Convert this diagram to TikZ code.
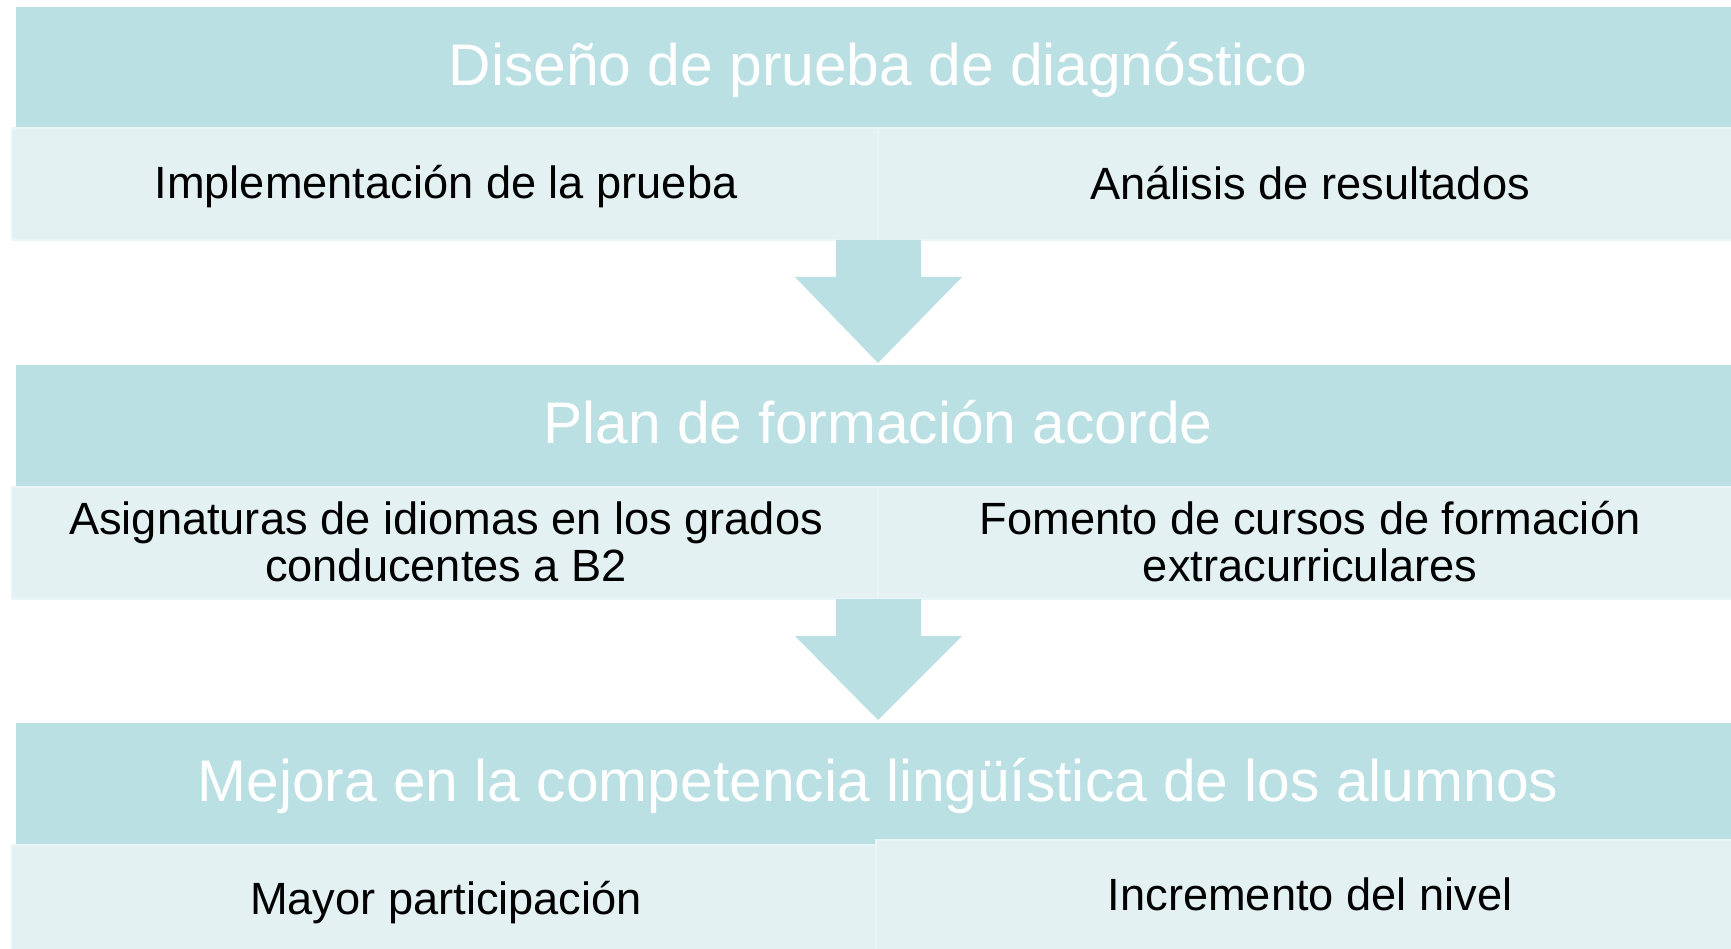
\documentclass[tikz,border=0pt]{standalone}
\usepackage{fontspec}
\setmainfont{Liberation Sans}
\definecolor{headc}{HTML}{BAE0E3}
\definecolor{subc}{HTML}{E3F1F2}
\definecolor{edgec}{HTML}{E9F5F6}
\tikzset{
  x=1pt, y=-1pt,
  headbox/.style={fill=headc, draw=none},
  subbox/.style={fill=subc, draw=edgec, line width=1.5pt},
  headtext/.style={text=white, font=\fontsize{58.7}{62}\selectfont, anchor=base, inner sep=0pt},
  subtext/.style={text=black, font=\fontsize{45.2}{47}\selectfont, align=center, anchor=base, inner sep=0pt},
  subtexttwo/.style={text=black, font=\fontsize{45.2}{47}\selectfont, align=center, anchor=center, inner sep=0pt},
  arrowshape/.style={fill=headc, draw=none}
}
\begin{document}
\begin{tikzpicture}
\useasboundingbox (0,0) rectangle (1731,949);
\clip (0,0) rectangle (1731,949);
\fill[white] (0,0) rectangle (1731,949);
% level 1
\path[headbox] (16,7) rectangle (1745,128);
\path[subbox] (12,128) rectangle (878,240);
\path[subbox] (878,128) rectangle (1745,240);
\node[headtext] (h1) at (878,86) {Diseño de prueba de diagnóstico};
\node[subtext] (s1a) at (446,199) {Implementación de la prueba};
\node[subtext] (s1b) at (1310,200) {Análisis de resultados};
\path[arrowshape] (836,240) -- (921,240) -- (921,277) -- (962,277) -- (878,363) -- (795,277) -- (836,277) -- cycle;
% level 2
\path[headbox] (16,365) rectangle (1745,487);
\path[subbox] (12,487) rectangle (878,599);
\path[subbox] (878,487) rectangle (1745,599);
\node[headtext] (h2) at (878,443) {Plan de formación acorde};
\node[subtexttwo] (s2a) at (446,542) {Asignaturas de idiomas en los grados\\conducentes a B2};
\node[subtexttwo] (s2b) at (1310,542) {Fomento de cursos de formación\\extracurriculares};
\path[arrowshape] (836,599) -- (921,599) -- (921,636) -- (962,636) -- (878,720) -- (795,636) -- (836,636) -- cycle;
% level 3
\path[headbox] (16,723) rectangle (1745,845);
\path[subbox] (12,845) rectangle (876,960);
\path[subbox] (876,840) rectangle (1745,960);
\node[headtext] (h3) at (878,801) {Mejora en la competencia lingüística de los alumnos};
\node[subtext] (s3a) at (446,914) {Mayor participación};
\node[subtext] (s3b) at (1310,910) {Incremento del nivel};
\end{tikzpicture}
\end{document}
